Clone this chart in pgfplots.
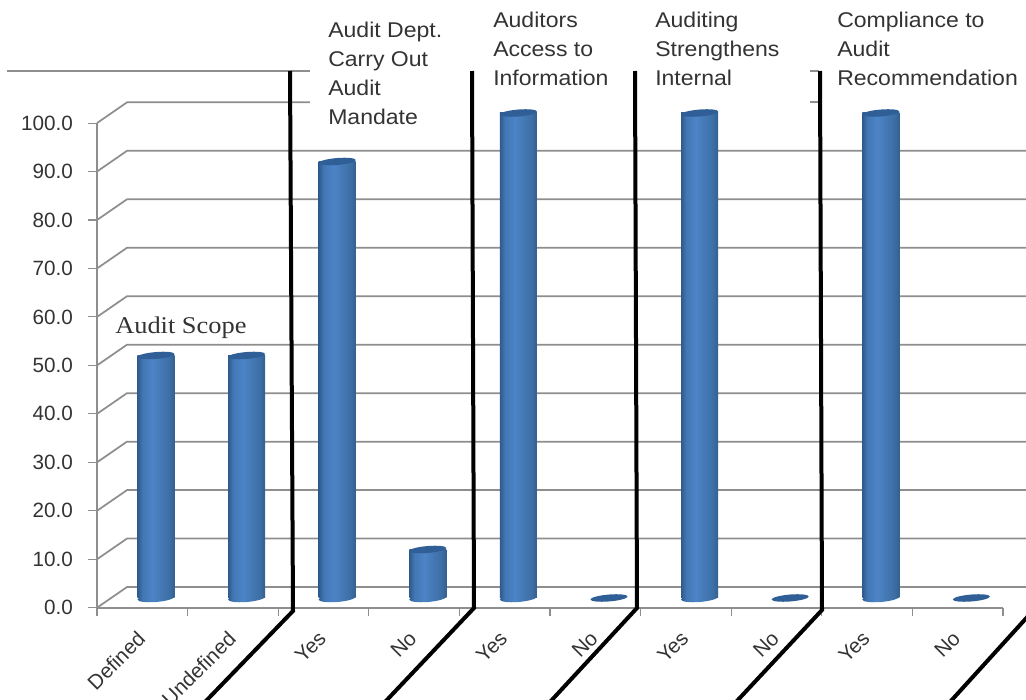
\documentclass[border=0pt]{standalone}
\usepackage{fontspec}
\setmainfont{Liberation Sans}
\newfontfamily\notefont[FakeStretch=1.08]{Liberation Sans}
\newfontfamily\timesfont[FakeStretch=1.1]{Liberation Serif}
\usepackage{pgfplots}
\usepackage{pgfplotstable}
\pgfplotsset{compat=1.18}

\definecolor{gridc}{HTML}{8E8E8E}
\definecolor{txt}{HTML}{333333}
\definecolor{capc}{HTML}{2F5F96}
\definecolor{barl}{HTML}{33608F}
\definecolor{barm}{HTML}{4C84C6}
\definecolor{barr}{HTML}{2E5A8C}

\tikzset{
    gridl/.style={gridc, line width=1.3pt},
    div/.style={black, line width=3pt, line join=miter},
    note/.style={anchor=north west, align=left, inner sep=0pt, text=txt,
        font=\notefont\fontsize{16}{21.6}\selectfont},
}

% cylinder body, dark at both edges
\pgfdeclareverticalshading{cyl}{100bp}{color(0bp)=(barl); color(25bp)=(barl); color(32bp)=(barl!60!barm); color(55bp)=(barm); color(68bp)=(barm!70!barr); color(75bp)=(barr); color(100bp)=(barr)}
\pgfdeclareplotmark{captop}{%
  \pgfpathellipse{\pgfpointorigin}{\pgfpoint{13.9pt}{1.1pt}}{\pgfpoint{0pt}{2.6pt}}%
  \pgfsetfillcolor{capc}\pgfusepathqfill}
\pgfdeclareplotmark{capbot}{%
  \pgfpathellipse{\pgfpointorigin}{\pgfpoint{13.9pt}{1.1pt}}{\pgfpoint{0pt}{3pt}}%
  \pgfshadepath{cyl}{90}\pgfusepath{discard}}

% base is nan where a bar has no height, so it gets only the flat top disc
\pgfplotstableread{
idx value base
0 50 0
1 50 0
2 90 0
3 10 0
4 100 0
5 0 nan
6 100 0
7 0 nan
8 100 0
9 0 nan
}\audit

\begin{document}
\begin{tikzpicture}
\path[use as bounding box, clip] (0,0) rectangle (769.5pt,525pt);
% front plane with ticks, plus the receding gridlines
\begin{axis}[
    scale only axis, width=679.5pt, height=363.5pt,
    at={(72.75pt,69.2pt)}, anchor=south west,
    clip=false,
    xmin=0, xmax=10, ymin=0, ymax=100,
    axis x line*=bottom, axis y line*=left,
    axis line style={gridc, line width=1.3pt, -},
    tick align=outside,
    major tick length=6.5pt, minor tick length=6pt,
    tick style={gridc, line width=0.8pt},
    xtick={0.5,1.5,...,9.5},
    minor xtick={0,1,...,10},
    x tick style={draw=none},
    minor x tick style={gridc, line width=0.8pt, draw=gridc},
    xticklabels={Defined,Undefined,Yes,No,Yes,No,Yes,No,Yes,No},
    x tick label style={rotate=45, anchor=north east, inner sep=0pt, text=txt,
        font=\fontsize{15.5}{18}\selectfont, yshift=-3.7pt, xshift=-10.4pt},
    ytick={0,10,...,100},
    y tick label style={text=txt, font=\fontsize{15.5}{18}\selectfont, xshift=-8pt,
        /pgf/number format/.cd, fixed, fixed zerofill, precision=1, assume math mode=true},
]
\addplot[gridl] coordinates {(0,0) (0.331,4.27) (10.33,4.27)};
\addplot[gridl] coordinates {(0,10) (0.331,14.27) (10.33,14.27)};
\addplot[gridl] coordinates {(0,20) (0.331,24.27) (10.33,24.27)};
\addplot[gridl] coordinates {(0,30) (0.331,34.27) (10.33,34.27)};
\addplot[gridl] coordinates {(0,40) (0.331,44.27) (10.33,44.27)};
\addplot[gridl] coordinates {(0,50) (0.331,54.27) (10.33,54.27)};
\addplot[gridl] coordinates {(0,60) (0.331,64.27) (10.33,64.27)};
\addplot[gridl] coordinates {(0,70) (0.331,74.27) (10.33,74.27)};
\addplot[gridl] coordinates {(0,80) (0.331,84.27) (10.33,84.27)};
\addplot[gridl] coordinates {(0,90) (0.331,94.27) (10.33,94.27)};
\addplot[gridl] coordinates {(0,100) (0.331,104.27) (2.35,104.27)};
\addplot[gridl] coordinates {(7.87,104.27) (7.97,104.27)};
\addplot[gridl] coordinates {(-0.99,110.7) (2.35,110.7)};
\addplot[gridl] coordinates {(7.87,110.7) (7.97,110.7)};
\end{axis}

% the cylinders: same value scale, base sits further back
\begin{axis}[
    scale only axis, width=769.5pt, height=525pt,
    at={(0,0)}, anchor=south west,
    hide axis, clip=false,
    xmin=-1.722, xmax=9.603, ymin=-21.03, ymax=123.3,
]
\addplot[only marks, mark=capbot] table[x=idx, y=base] {\audit};
% one plot per bar, or the shading runs across all of them
\pgfplotsinvokeforeach{0,1,2,3,4,6,8}{
  \addplot[ybar, bar width=27.8pt, bar shift=0pt, draw=none, shading=cyl, shading angle=90,
      x filter/.expression={abs(x-#1)<0.1 ? x : nan}] table[x=idx, y=value] {\audit};
}
\addplot[only marks, mark=captop] table[x=idx, y=value] {\audit};
\end{axis}

% annotations and hand-drawn dividers, in pixels of the reference
\begin{axis}[
    scale only axis, width=769.5pt, height=525pt,
    at={(0,0)}, anchor=south west,
    hide axis, clip=false,
    xmin=0, xmax=1026, ymin=0, ymax=700, y dir=reverse,
]
\addplot[div] coordinates {(290,71) (293,611) (205,702)};
\addplot[div] coordinates {(472,71) (474,608) (385,702)};
\addplot[div] coordinates {(635,71) (637,608) (550,702)};
\addplot[div] coordinates {(820,71) (822,610) (736,702)};
\addplot[div] coordinates {(1030,614) (950,702)};
\node[note] at (axis cs:328,22) {Audit Dept.\\Carry Out\\Audit\\Mandate};
\node[note] at (axis cs:493,12) {Auditors\\Access to\\Information};
\node[note] at (axis cs:655,12) {Auditing\\Strengthens\\Internal};
\node[note] at (axis cs:837,12) {Compliance to\\Audit\\Recommendation};
\node[anchor=base west, inner sep=0pt, text=txt, font=\timesfont\fontsize{18}{20}\selectfont] at (axis cs:115,333) {Audit Scope};
\end{axis}
\end{tikzpicture}
\end{document}
